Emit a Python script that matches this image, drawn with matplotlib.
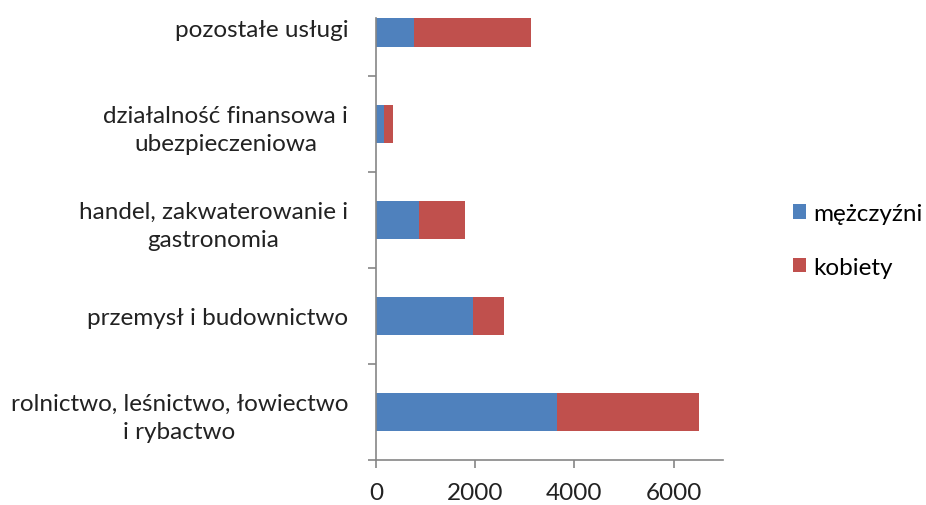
import numpy as np
import matplotlib.pyplot as plt

categories = ["rolnictwo, leśnictwo, łowiectwo\ni rybactwo",
              "przemysł i budownictwo",
              "handel, zakwaterowanie i\ngastronomia",
              "działalność finansowa i\nubezpieczeniowa",
              "pozostałe usługi"]
men = [3655, 1950, 865, 170, 760]
women = [2865, 640, 930, 180, 2375]
x_ticks = [0, 2000, 4000, 6000]

plt.rcParams['font.family'] = ['Lato', 'DejaVu Sans']

fig = plt.figure(figsize=(9.26, 5.06), dpi=100)
ax = fig.add_axes([0.406, 0.0889, 0.375, 0.8736])

y = np.arange(len(categories))
b1 = ax.barh(y, men, height=0.40, color="#4F81BD", label="mężczyźni")
b2 = ax.barh(y, women, left=men, height=0.40, color="#C0504D", label="kobiety")

ax.set_xlim(0, 7000)
ax.set_ylim(-0.5, 4.104)
ax.set_xticks(x_ticks)
ax.set_xticklabels([str(t) for t in x_ticks], fontsize=17.5, color="#222222")
ax.set_yticks(y)
ax.set_yticklabels(categories, fontsize=17.5, color="#222222",
                   multialignment="center", linespacing=1.4)
ax.set_yticks(np.arange(len(categories)) - 0.5, minor=True)

# Excel-style axis: only left/bottom, ticks at category boundaries
for s in ["top", "right"]:
    ax.spines[s].set_visible(False)
for s in ["left", "bottom"]:
    ax.spines[s].set_color("#868686")
    ax.spines[s].set_linewidth(1.2)
ax.tick_params(axis="y", which="major", length=0, pad=20)
ax.tick_params(axis="y", which="minor", length=6, color="#868686", width=1.2)
ax.tick_params(axis="x", length=6, color="#868686", width=1.2, pad=10)

fig.legend(handles=[b1, b2], loc="center left", bbox_to_anchor=(0.856, 0.523),
           frameon=False, fontsize=17.5, handlelength=0.55, handleheight=0.55,
           handletextpad=0.3, labelspacing=1.35, borderaxespad=0, borderpad=0)

plt.savefig("out.png", dpi=100)
